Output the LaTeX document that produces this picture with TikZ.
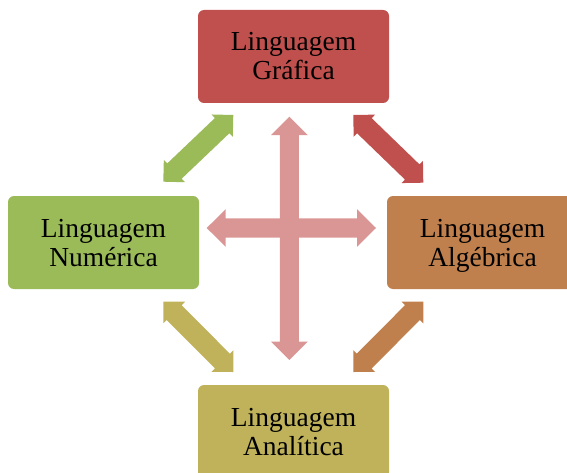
\documentclass[tikz,border=0pt]{standalone}
\usepackage{fontspec}
\setmainfont{Liberation Serif}
\usetikzlibrary{calc}

\definecolor{grafred}{HTML}{C0504D}
\definecolor{numgreen}{HTML}{9BBB59}
\definecolor{algorange}{HTML}{C0804D}
\definecolor{anaolive}{HTML}{C0B25A}
\definecolor{crosspink}{HTML}{DA9694}

% Double-headed block arrow between two named points:
% #1 colour, #2/#3 tip names, #4 head length, #5 shaft half width, #6 head half width
\newcommand{\dblblock}[6]{%
  \fill[#1] (#2)
    -- ($(#2)!#4!(#3)!#6!90:(#3)$)
    -- ($(#2)!#4!(#3)!#5!90:(#3)$)
    -- ($(#3)!#4!(#2)!#5!-90:(#2)$)
    -- ($(#3)!#4!(#2)!#6!-90:(#2)$)
    -- (#3)
    -- ($(#3)!#4!(#2)!#6!90:(#2)$)
    -- ($(#3)!#4!(#2)!#5!90:(#2)$)
    -- ($(#2)!#4!(#3)!#5!-90:(#3)$)
    -- ($(#2)!#4!(#3)!#6!-90:(#3)$)
    -- cycle;}

\tikzset{
  langbox/.style={rectangle, rounded corners=6pt, minimum width=191pt,
    minimum height=93pt, inner sep=0pt, text=black,
    text height=20pt, text depth=31pt,
    font=\fontsize{27.5}{29}\selectfont},
}
\newcommand{\twolines}[2]{\begin{tabular}[t]{@{}c@{}}#1\\#2\end{tabular}}

\begin{document}
\begin{tikzpicture}[x=1pt,y=-1pt]
  \useasboundingbox (0,0) rectangle (567,473);
  \clip (0,0) rectangle (567,473);

  % language boxes
  \node[langbox, fill=grafred]   (graf) at (293.5,56.5)  {\twolines{Linguagem}{Gráfica}};
  \node[langbox, fill=numgreen]  (num)  at (103.5,242.5) {\twolines{Linguagem}{Numérica}};
  \node[langbox, fill=algorange] (alg)  at (482.5,242.5) {\twolines{Linguagem}{Algébrica}};
  \node[langbox, fill=anaolive]  (ana)  at (293.5,431.5) {\twolines{Linguagem}{Analítica}};

  % tips of the diagonal arrows
  \coordinate (gA) at (163.3,181.7); \coordinate (gB) at (233.3,115);
  \coordinate (rA) at (353.3,115);   \coordinate (rB) at (423.3,182.7);
  \coordinate (oA) at (163.3,301.7); \coordinate (oB) at (233.3,372);
  \coordinate (aA) at (423.3,301.7); \coordinate (aB) at (353.3,372);

  \dblblock{numgreen}{gA}{gB}{15.4pt}{10.5pt}{15.4pt}
  \dblblock{grafred}{rA}{rB}{15.4pt}{10.5pt}{15.4pt}
  \dblblock{anaolive}{oA}{oB}{15.4pt}{10.5pt}{15.4pt}
  \dblblock{algorange}{aA}{aB}{15.4pt}{10.5pt}{15.4pt}

  % central cross
  \coordinate (cT) at (289.3,116.7); \coordinate (cD) at (289.3,360);
  \coordinate (cL) at (206.7,228);   \coordinate (cR) at (376,228);
  \dblblock{crosspink}{cT}{cD}{18.5pt}{9.5pt}{18.5pt}
  \dblblock{crosspink}{cL}{cR}{19pt}{9.7pt}{18.8pt}
\end{tikzpicture}
\end{document}
